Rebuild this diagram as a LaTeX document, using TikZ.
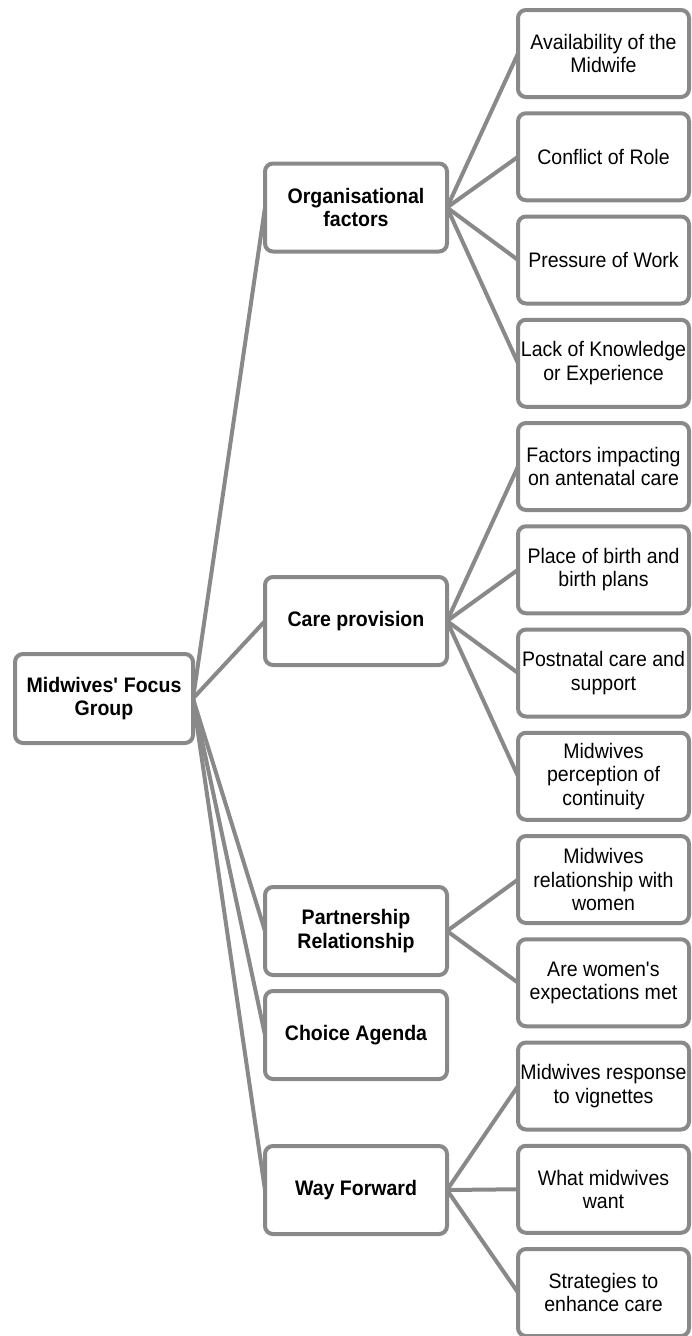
\documentclass[tikz,border=0pt]{standalone}
\usepackage{fontspec}
\setmainfont{Liberation Sans}[FakeStretch=0.93]
\definecolor{linegray}{RGB}{137,137,137}
\begin{document}
\begin{tikzpicture}[x=1pt,y=-1pt,
  box/.style={draw=linegray, line width=4pt, rounded corners=8pt, fill=white,
    align=center, inner sep=0pt, outer sep=0pt,
    font=\fontsize{21}{23.5}\selectfont},
  rootbox/.style={box, minimum width=178pt, minimum height=89pt, font=\fontsize{21}{23.5}\selectfont\bfseries},
  midbox/.style={box, minimum width=182pt, minimum height=88pt, font=\fontsize{21}{23.5}\selectfont\bfseries},
  leafbox/.style={box, minimum width=171pt, minimum height=87pt},
  conn/.style={draw=linegray, line width=4pt, line cap=round}]
\useasboundingbox (0,0) rectangle (692,1336);
% root
\node[rootbox] (root) at (104,698.5) {Midwives\textquotesingle{} Focus\\Group};
% level 1
\node[midbox] (org) at (356,207.5) {Organisational\\factors};
\node[midbox] (care) at (356,621) {Care provision};
\node[midbox] (part) at (356,931) {Partnership\\Relationship};
\node[midbox] (choice) at (356,1035) {Choice Agenda};
\node[midbox] (way) at (356,1190) {Way Forward};
% level 2
\def\lx{603.5}
\node[leafbox] (l0) at (\lx,53.5) {Availability of the\\Midwife};
\node[leafbox] (l1) at (\lx,156.75) {Conflict of Role};
\node[leafbox] (l2) at (\lx,260) {Pressure of Work};
\node[leafbox] (l3) at (\lx,363.25) {Lack of Knowledge\\or Experience};
\node[leafbox] (l4) at (\lx,466.5) {Factors impacting\\on antenatal care};
\node[leafbox] (l5) at (\lx,569.75) {Place of birth and\\birth plans};
\node[leafbox] (l6) at (\lx,673) {Postnatal care and\\support};
\node[leafbox] (l7) at (\lx,776.25) {Midwives\\perception of\\continuity};
\node[leafbox] (l8) at (\lx,879.5) {Midwives\\relationship with\\women};
\node[leafbox] (l9) at (\lx,982.75) {Are women\textquotesingle s\\expectations met};
\node[leafbox] (l10) at (\lx,1086) {Midwives response\\to vignettes};
\node[leafbox] (l11) at (\lx,1189.25) {What midwives\\want};
\node[leafbox] (l12) at (\lx,1292.5) {Strategies to\\enhance care};
% connectors
\foreach \t in {org,care,part,choice,way} \draw[conn] (root.east) -- (\t.west);
\foreach \t in {l0,l1,l2,l3} \draw[conn] (org.east) -- (\t.west);
\foreach \t in {l4,l5,l6,l7} \draw[conn] (care.east) -- (\t.west);
\foreach \t in {l8,l9} \draw[conn] (part.east) -- (\t.west);
\foreach \t in {l10,l11,l12} \draw[conn] (way.east) -- (\t.west);
\end{tikzpicture}
\end{document}
